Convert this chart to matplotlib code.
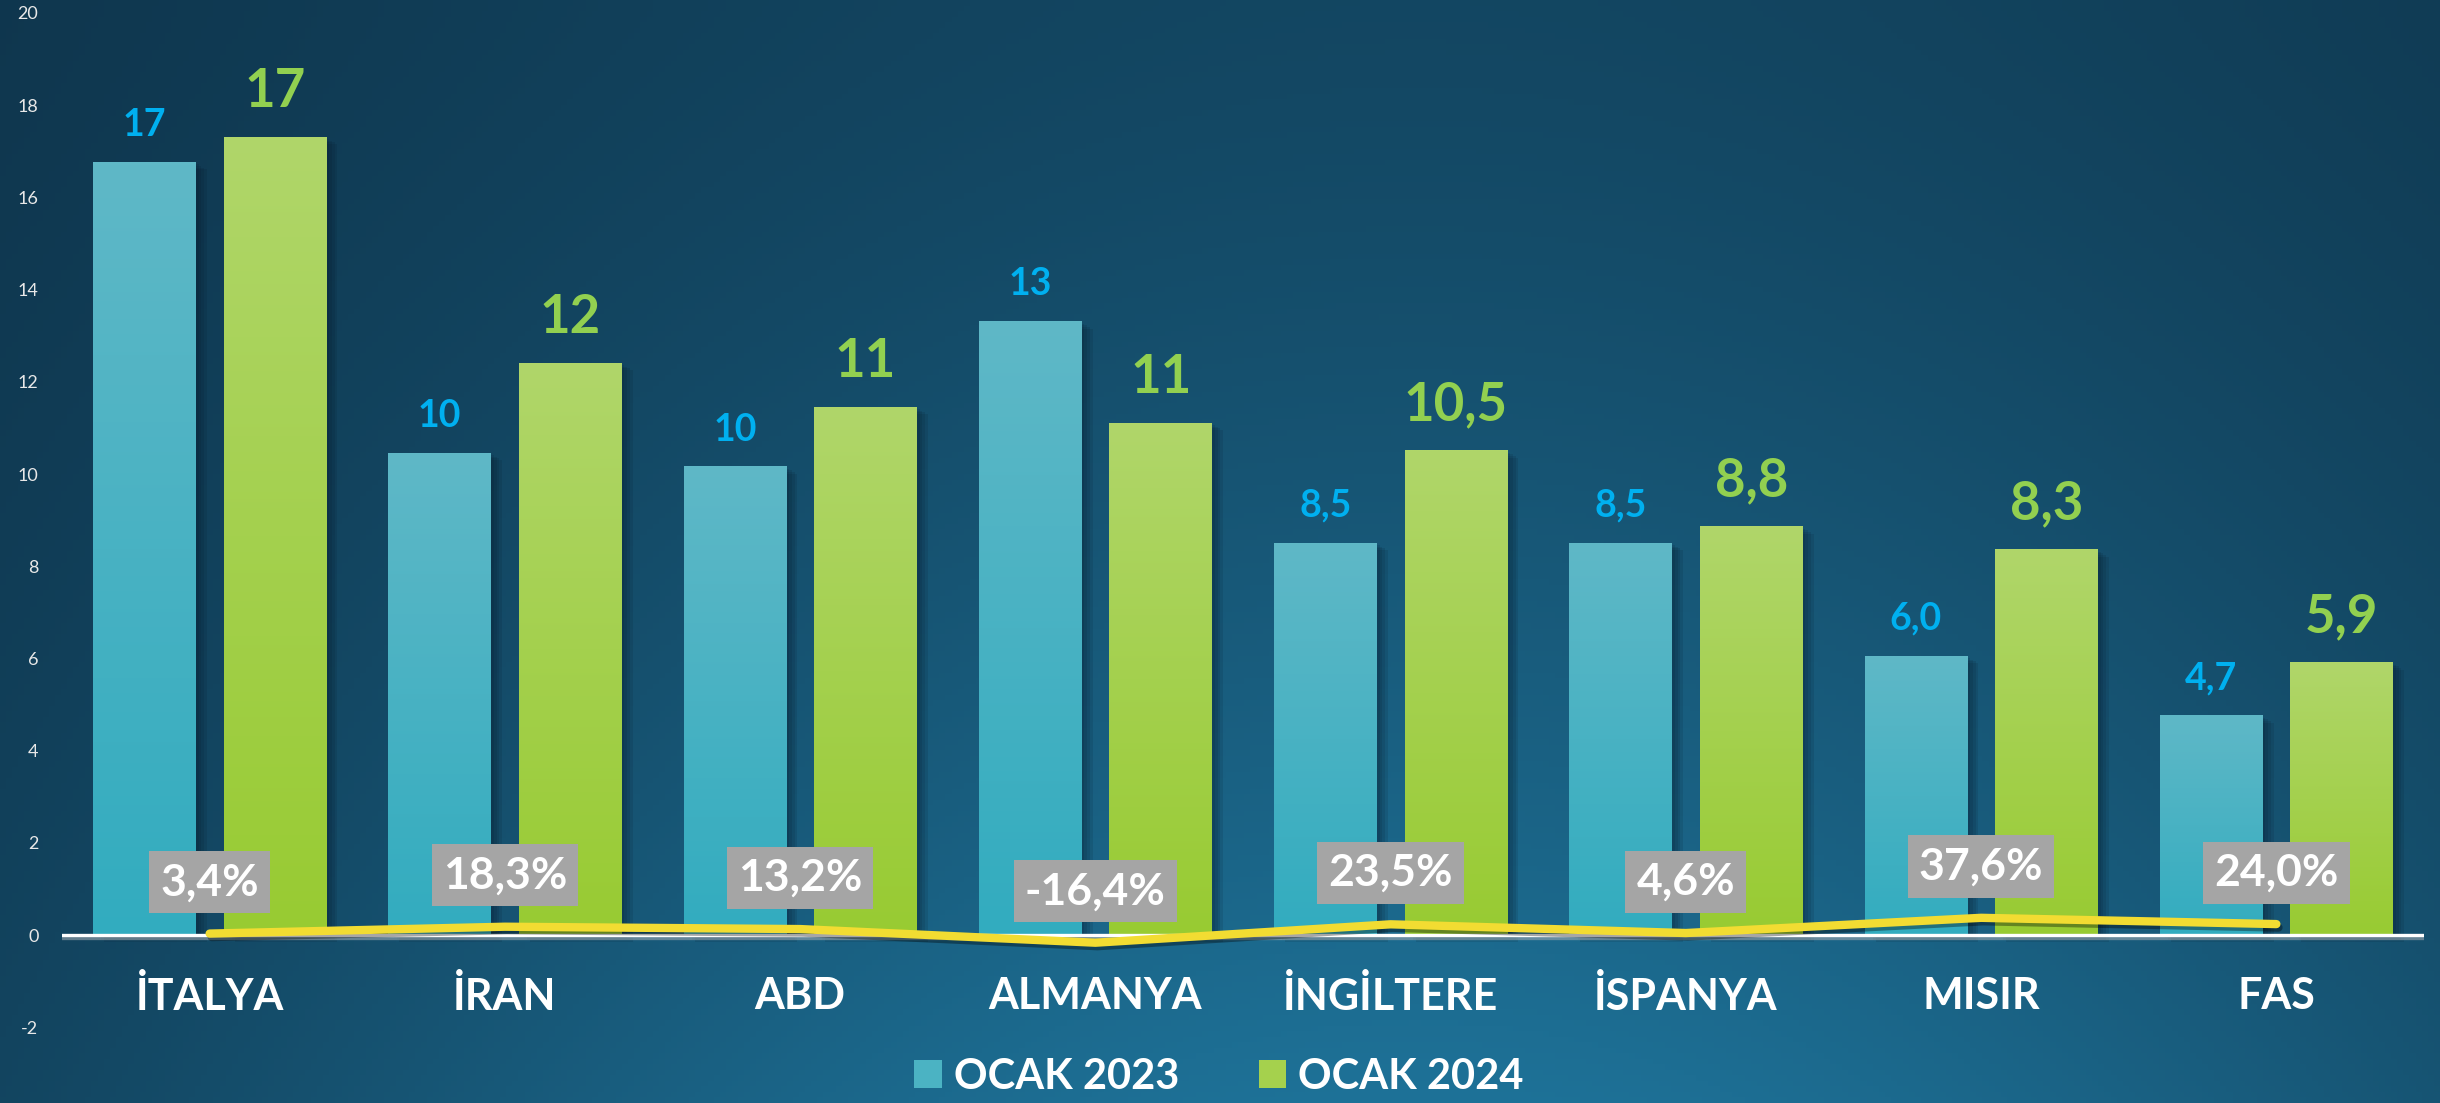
import numpy as np
import matplotlib.pyplot as plt
import matplotlib.patheffects as pe
from matplotlib.colors import LinearSegmentedColormap, to_rgb
from matplotlib.patches import Patch

plt.rcParams['font.family'] = ['Lato', 'DejaVu Sans']
plt.rcParams['axes.unicode_minus'] = False

# data
categories = ['İTALYA', 'İRAN', 'ABD', 'ALMANYA', 'İNGİLTERE', 'İSPANYA', 'MISIR', 'FAS']
ocak_2023 = [16.75, 10.45, 10.15, 13.3, 8.5, 8.5, 6.05, 4.75]
ocak_2024 = [17.3, 12.4, 11.45, 11.1, 10.5, 8.85, 8.35, 5.9]
labels_2023 = ['17', '10', '10', '13', '8,5', '8,5', '6,0', '4,7']
labels_2024 = ['17', '12', '11', '11', '10,5', '8,8', '8,3', '5,9']
change_pct = [3.4, 18.3, 13.2, -16.4, 23.5, 4.6, 37.6, 24.0]
change_labels = ['3,4%', '18,3%', '13,2%', '-16,4%', '23,5%', '4,6%', '37,6%', '24,0%']
series_names = ['OCAK 2023', 'OCAK 2024']

W, H = 2440, 1103
fig = plt.figure(figsize=(W / 100, H / 100), dpi=100)

# background gradient
bg = fig.add_axes([0, 0, 1, 1], zorder=0)
xx, yy = np.meshgrid(np.linspace(0, 1, 400), np.linspace(0, 1, 200))
tx = np.exp(-((xx - 0.58) / 0.55) ** 2)
ty = 0.35 + 0.65 * yy ** 1.3
t = (tx * ty)[..., None]
dark = np.array(to_rgb('#0d2f45'))
light = np.array(to_rgb('#1e7298'))
bg.imshow(dark + t * (light - dark), aspect='auto', extent=[0, 1, 1, 0])
bg.axis('off')

ax = fig.add_axes([62 / W, 0, (2424 - 62) / W, 1], zorder=1)
ax.patch.set_alpha(0)

x = np.arange(len(categories))
bw = 0.348
off = 0.221

# soft shadow: a few offset layers
shadow = [pe.SimplePatchShadow(offset=(d, -d * 0.6), shadow_rgbFace='#061828', alpha=0.12)
          for d in (2, 4, 6, 8)] + [pe.Normal()]
b1 = ax.bar(x - off, ocak_2023, bw, color='#4bb3c3', zorder=2, path_effects=shadow)
b2 = ax.bar(x + off, ocak_2024, bw, color='#a5d14d', zorder=2, path_effects=shadow)


def grad_fill(bars, top, bottom):
    cmap = LinearSegmentedColormap.from_list('g', [bottom, top])
    g = np.linspace(0, 1, 256).reshape(-1, 1)
    for b in bars:
        x0, y0, w, h = b.get_x(), b.get_y(), b.get_width(), b.get_height()
        ax.imshow(g, extent=[x0, x0 + w, y0, y0 + h], origin='lower',
                  cmap=cmap, aspect='auto', zorder=2.1)


grad_fill(b1, '#5fb8c7', '#32acbf')
grad_fill(b2, '#b0d66a', '#98cb32')

ax.axhline(0, color='white', lw=2.4, zorder=3,
           path_effects=[pe.SimpleLineShadow(offset=(0, -2), shadow_color='#9aa5ad', alpha=0.6), pe.Normal()])

# change line
ax.plot(x, np.array(change_pct) / 100, color='#f2dc32', lw=6,
        solid_capstyle='round', solid_joinstyle='round', zorder=4,
        path_effects=[pe.SimpleLineShadow(offset=(1.5, -2.5), shadow_color='black', alpha=0.35), pe.Normal()])

for xi, p, lbl in zip(x, change_pct, change_labels):
    ax.annotate(lbl, (xi, p / 100), xytext=(0, 37), textcoords='offset points',
                ha='center', va='center', fontsize=32, fontweight='bold', color='white',
                bbox=dict(boxstyle='square,pad=0.25', fc='#a5a5a5', ec='none'), zorder=5)

for b, lbl in zip(b1, labels_2023):
    ax.annotate(lbl, (b.get_x() + b.get_width() / 2, b.get_height()), xytext=(0, 19),
                textcoords='offset points', ha='center', va='baseline',
                fontsize=27, fontweight='bold', color='#00b0f0', zorder=5)
for b, lbl in zip(b2, labels_2024):
    ax.annotate(lbl, (b.get_x() + b.get_width() / 2, b.get_height()), xytext=(0, 22),
                textcoords='offset points', ha='center', va='baseline',
                fontsize=38, fontweight='bold', color='#92d050', zorder=5)

for xi, cat in zip(x, categories):
    ax.text(xi, -1.32, cat, ha='center', va='center', fontsize=31,
            fontweight='bold', color='white')

ax.set_xlim(-0.5, 7.5)
ax.set_ylim(-3.64, 20.28)
ax.set_xticks([])
ax.set_yticks(range(-2, 21, 2))
ax.tick_params(axis='y', length=0, pad=17, labelsize=13, labelcolor='#e8e8e8')
for s in ax.spines.values():
    s.set_visible(False)

handles = [Patch(fc='#4bb3c3'), Patch(fc='#a5d14d')]
fig.legend(handles, series_names, loc='center', bbox_to_anchor=(0.4996, 26 / H), ncol=2,
           frameon=False, prop={'size': 30, 'weight': 'bold'}, labelcolor='white',
           handlelength=0.65, handleheight=0.65, handletextpad=0.3, columnspacing=1.9)

fig.savefig('out.png', dpi=100)
